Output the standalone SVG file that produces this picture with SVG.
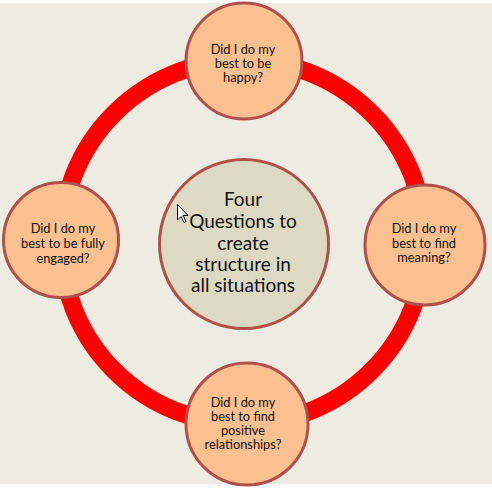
<svg xmlns="http://www.w3.org/2000/svg" width="492" height="490" viewBox="0 0 492 490">
<style>
.q{fill:#FAC090;stroke:#B0504C;stroke-width:3}
.c{fill:#DDD9C3;stroke:#B0504C;stroke-width:3}
.t{font-family:"Lato","Liberation Sans",sans-serif;font-size:12.8px;fill:#111111;text-anchor:middle}
.tc{font-family:"Lato","Liberation Sans",sans-serif;font-size:19px;fill:#111111;text-anchor:middle}
</style>
<rect x="0" y="0" width="492" height="490" fill="#ffffff"/>
<rect x="0" y="3" width="492" height="481" fill="#EEECE1"/>
<g id="connectors">
<circle cx="243" cy="242" r="182" fill="none" stroke="#FF0000" stroke-width="18"/>
</g>
<g id="center">
<circle class="c" cx="244" cy="244" r="84.5"/>
<text class="tc" x="243" y="206">Four</text>
<text class="tc" x="243" y="228">Questions to</text>
<text class="tc" x="243" y="250">create</text>
<text class="tc" x="243" y="271">structure in</text>
<text class="tc" x="243" y="292">all situations</text>
</g>
<g id="top">
<circle class="q" cx="244" cy="61" r="58"/>
<text class="t" x="243" y="54">Did I do my</text>
<text class="t" x="243" y="68">best to be</text>
<text class="t" x="243" y="82">happy?</text>
</g>
<g id="left">
<circle class="q" cx="61" cy="240" r="57.5"/>
<text class="t" x="63" y="233">Did I do my</text>
<text class="t" x="63" y="248">best to be fully</text>
<text class="t" x="63" y="263">engaged?</text>
</g>
<g id="right">
<circle class="q" cx="425" cy="245" r="60"/>
<text class="t" x="424" y="233">Did I do my</text>
<text class="t" x="424" y="248">best to find</text>
<text class="t" x="424" y="262">meaning?</text>
</g>
<g id="bottom">
<circle class="q" cx="247" cy="424" r="61"/>
<text class="t" x="243" y="407">Did I do my</text>
<text class="t" x="243" y="421">best to find</text>
<text class="t" x="243" y="435">positive</text>
<text class="t" x="243" y="449">relationships?</text>
</g>
<g id="cursor">
<polygon points="177.5,204.5 177.5,220 181,216.5 184,222.5 186,221.5 183.2,215.5 188,215.5" fill="#ffffff" stroke="#000000" stroke-width="1"/>
</g>
</svg>
